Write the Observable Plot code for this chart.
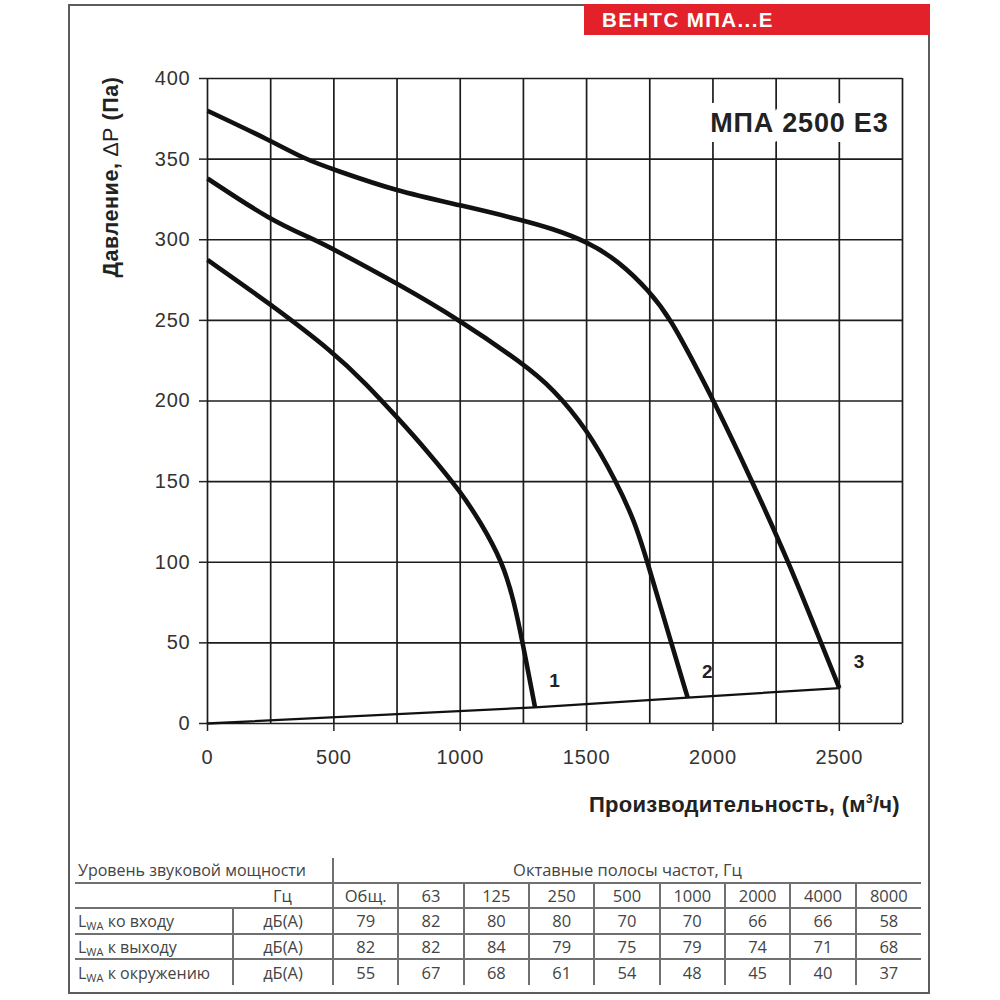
<!DOCTYPE html>
<html>
<head>
<meta charset="utf-8">
<script src="https://cdn.jsdelivr.net/npm/d3@7"></script>
<script src="https://cdn.jsdelivr.net/npm/@observablehq/plot@0.6"></script>
<style>
  html, body { margin: 0; padding: 0; background: #fff; }
  #page { position: relative; width: 1000px; height: 1000px; overflow: hidden; }
  #frame { position: absolute; left: 68px; top: 4px; width: 862px; height: 990px; box-sizing: border-box; border: 2px solid #5c5c5c; }
  #banner { position: absolute; left: 584px; top: 4px; width: 346px; height: 31px; box-sizing: border-box; padding-left: 18px;
            background: #e3212b; color: #fff; font: bold 20.5px "Liberation Sans", Arial, sans-serif; line-height: 31px; letter-spacing: 1.4px; white-space: nowrap; }
  #chart { position: absolute; left: 0; top: 0; }
  #ylab { position: absolute; left: -39px; top: 165px; width: 300px; height: 24px; line-height: 24px; text-align: center;
          transform: rotate(-90deg); font: bold 21.5px "Liberation Sans", Arial, sans-serif; letter-spacing: 0.6px; color: #222; white-space: nowrap; }
  #ylab .n { font-weight: normal; }
  #xlab { position: absolute; left: 0; top: 792px; width: 900px; line-height: 26px; text-align: right;
          font: bold 22px "Liberation Sans", Arial, sans-serif; color: #222; letter-spacing: 0.3px; white-space: nowrap; }
  #xlab sup { font-size: 12px; line-height: 0; vertical-align: 9px; }
  #sound { position: absolute; left: 75px; top: 858px; width: 846px; border-collapse: collapse; table-layout: fixed;
           font-family: "Open Sans", sans-serif; font-size: 16.5px; color: #444; }
  #sound td { padding: 0; text-align: center; vertical-align: middle; white-space: nowrap; line-height: 20px; }
  #sound td.l { text-align: left; padding-left: 3px; font-size: 16px; }
  #sound td.br { border-right: 2px solid #707070; }
  #sound tr.bb td { border-bottom: 2px solid #707070; }
  #sound sub { font-size: 11px; vertical-align: -3px; line-height: 0; }
</style>
</head>
<body>
<div id="page">
  <div id="frame"></div>
  <div id="banner">ВЕНТС МПА...Е</div>
  <div id="chart"></div>
  <div id="ylab">Давление, <span class="n">∆P</span> (Па)</div>
  <div id="xlab">Производительность, (м<sup>3</sup>/ч)</div>
  <table id="sound"></table>
</div>
<script>
// ---- Fan curves (flow m³/h, pressure Pa) ----
const flow1 = [0, 250, 500, 625, 750, 875, 1000, 1080, 1168, 1214, 1247, 1296];
const pressure1 = [287.5, 260, 230, 211, 190, 168, 144, 125, 100, 75, 50, 10];
const flow2 = [0, 250, 425, 500, 750, 1000, 1250, 1365, 1500, 1618, 1691, 1741, 1835, 1900];
const pressure2 = [338, 312, 300, 294, 273, 250, 223, 208, 183, 150, 125, 100, 50, 16];
const flow3 = [0, 250, 385, 500, 750, 1000, 1250, 1362, 1500, 1625, 1750, 1835, 1920, 2000, 2150, 2300, 2420, 2500];
const pressure3 = [380, 361.5, 350, 343.5, 330, 321.5, 312, 307, 299, 287, 268, 250, 225, 201, 152, 100, 53, 22];
const curveNames = ["1", "2", "3"];
// ---- System line ----
const systemFlow = [0, 1296, 1900, 2500];
const systemPressure = [0, 10, 16, 22];
// ---- Axes ----
const xTicks = [0, 500, 1000, 1500, 2000, 2500];
const xGrid = [0, 250, 500, 750, 1000, 1250, 1500, 1750, 2000, 2250, 2500, 2750];
const yTicks = [0, 50, 100, 150, 200, 250, 300, 350, 400];
const modelName = "МПА 2500 Е3";
// ---- Sound table ----
const tableTitleLeft = "Уровень звуковой мощности";
const tableTitleRight = "Октавные полосы частот, Гц";
const hzLabel = "Гц";
const unitLabel = "дБ(А)";
const bands = ["Общ.", "63", "125", "250", "500", "1000", "2000", "4000", "8000"];
const rowLabels = ["ко входу", "к выходу", "к окружению"];
const inletLevels = [79, 82, 80, 80, 70, 70, 66, 66, 58];
const outletLevels = [82, 82, 84, 79, 75, 79, 74, 71, 68];
const surroundLevels = [55, 67, 68, 61, 54, 48, 45, 40, 37];

const flows = [flow1, flow2, flow3];
const pressures = [pressure1, pressure2, pressure3];
const curveRows = curveNames.flatMap((name, i) =>
  flows[i].map((f, j) => ({curve: name, flow: f, pressure: pressures[i][j]})));
const curveEnds = curveNames.map((name, i) => ({
  curve: name, flow: flows[i][flows[i].length - 1], pressure: pressures[i][pressures[i].length - 1]}));
const systemRows = systemFlow.map((f, i) => ({flow: f, pressure: systemPressure[i]}));

const chart = Plot.plot({
  width: 1000,
  height: 830,
  marginLeft: 207,
  marginRight: 98,
  marginTop: 78,
  marginBottom: 107,
  style: {background: "transparent", fontFamily: "'Liberation Sans', Arial, sans-serif", color: "#333", letterSpacing: "0.8px"},
  x: {domain: [0, 2750]},
  y: {domain: [0, 400]},
  marks: [
    Plot.ruleX(xGrid, {stroke: "#1c1c1c", strokeWidth: 1.7}),
    Plot.ruleY(yTicks, {stroke: "#1c1c1c", strokeWidth: 1.7}),
    Plot.text([modelName], {frameAnchor: "top-right", dx: -14, dy: 45, text: d => d, textAnchor: "end", lineAnchor: "middle",
      fontSize: 27, fontWeight: "bold", fill: "#222", stroke: "white", strokeWidth: 20, strokeLinejoin: "round"}),
    Plot.line(systemRows, {x: "flow", y: "pressure", stroke: "#111", strokeWidth: 2.3}),
    Plot.line(curveRows, {x: "flow", y: "pressure", z: "curve", stroke: "#111", strokeWidth: 4.6, curve: "basis", strokeLinecap: "butt"}),
    Plot.text(curveEnds, {x: "flow", y: "pressure", text: "curve", dx: 20, dy: -26, fontSize: 19, fontWeight: "bold", fill: "#222"}),
    Plot.axisX({ticks: xTicks, tickFormat: d => String(d), tickSize: 8, tickPadding: 18, fontSize: 20, strokeWidth: 1.5, label: null, stroke: "#222"}),
    Plot.axisY({ticks: yTicks, tickFormat: d => String(d), tickSize: 8, tickPadding: 9, fontSize: 20, strokeWidth: 1.5, label: null, stroke: "#222"})
  ]
});
document.getElementById("chart").appendChild(chart);

// Build table
const levelRows = [inletLevels, outletLevels, surroundLevels];
const dataColW = (846 - 158 - 100) / bands.length;
let html = `<colgroup><col style="width:158px"><col style="width:100px">${bands.map(() => `<col style="width:${dataColW}px">`).join("")}</colgroup>`;
html += `<tr class="bb" style="height:25px"><td class="l br" colspan="2">${tableTitleLeft}</td><td colspan="${bands.length}">${tableTitleRight}</td></tr>`;
html += `<tr class="bb" style="height:25px"><td></td><td class="br">${hzLabel}</td>${bands.map((b, i) => `<td class="${i < bands.length - 1 ? "br" : ""}">${b}</td>`).join("")}</tr>`;
levelRows.forEach((vals, r) => {
  const cls = r < levelRows.length - 1 ? "bb" : "";
  html += `<tr class="${cls}" style="height:${r === 1 ? 25 : 26}px"><td class="l br">L<sub>WA</sub> ${rowLabels[r]}</td><td class="br">${unitLabel}</td>${vals.map((v, i) => `<td class="${i < vals.length - 1 ? "br" : ""}">${v}</td>`).join("")}</tr>`;
});
document.getElementById("sound").innerHTML = html;
</script>
</body>
</html>
